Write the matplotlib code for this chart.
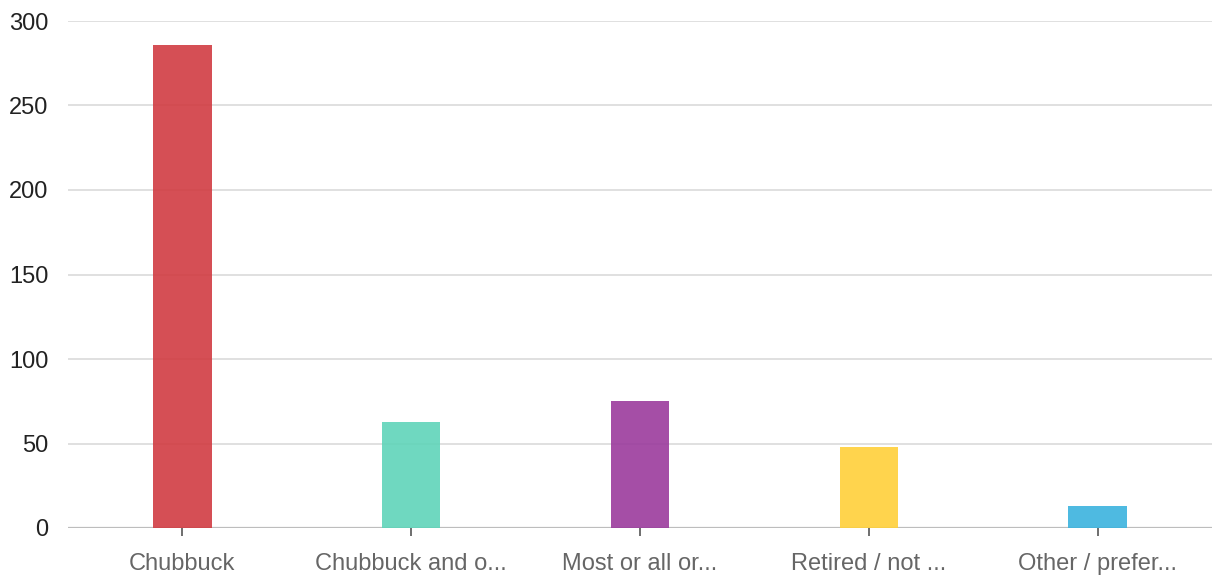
import matplotlib
matplotlib.use("Agg")
from matplotlib import pyplot as plt

# 数据
categories = ["Chubbuck", "Chubbuck and o...", "Most or all or...", "Retired / not ...", "Other / prefer..."]
counts = [286, 63, 75, 48, 13]
colors = ["#d13c42", "#5fd4b9", "#9b3b9d", "#ffd03a", "#3bb3de"]
yticks = [0, 50, 100, 150, 200, 250, 300]

plt.rcParams['font.family'] = ['Liberation Sans', 'DejaVu Sans']

fig = plt.figure(figsize=(12.12, 5.8), dpi=100)
ax = fig.add_axes([68 / 1212, 52 / 580, 1 - 68 / 1212, 507 / 580])

x = list(range(len(categories)))
ax.bar(x, [c + 1.2 for c in counts], bottom=-1.2, width=0.255, color=colors, alpha=0.9, zorder=3)

ax.set_xlim(-0.5, len(categories) - 0.5)
ax.set_ylim(0, 300)
ax.set_yticks(yticks)
ax.set_yticklabels([str(t) for t in yticks], fontsize=17, color="#222222")
ax.set_xticks(x)
ax.set_xticklabels(categories, fontsize=17, color="#666666")

ax.grid(axis="y", color="#dadada", linewidth=1.2, zorder=0)
ax.axhline(0, color="#bdbdbd", linewidth=1.6, zorder=2)
for s in ax.spines.values():
    s.set_visible(False)
ax.tick_params(axis="y", length=0, pad=14)
ax.tick_params(axis="x", length=6, width=1.2, color="#555555", pad=12, direction="out")
for t in ax.xaxis.get_major_ticks():
    t.tick1line.set_zorder(4)

fig.savefig("out.png", dpi=100)
